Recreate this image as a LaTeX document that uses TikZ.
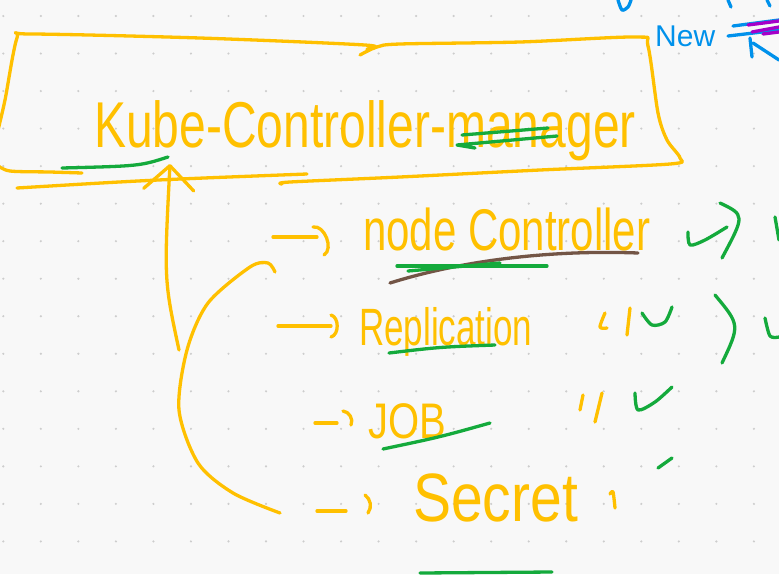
\documentclass[tikz,border=0pt]{standalone}
\usepackage{fontspec}
\setmainfont{Liberation Sans}
\usetikzlibrary{arrows.meta}
\definecolor{kyellow}{RGB}{255,192,0}
\definecolor{kgreen}{RGB}{20,170,60}
\definecolor{kbrown}{RGB}{115,85,70}
\definecolor{kblue}{RGB}{0,145,235}
\definecolor{kpurple}{RGB}{165,0,200}
\definecolor{paper}{RGB}{248,248,248}
\definecolor{griddot}{RGB}{205,205,205}
\tikzset{
  pen/.style={line width=3.3pt,line cap=round,line join=round},
  ypen/.style={pen,draw=kyellow},
  gpen/.style={pen,draw=kgreen},
  bpen/.style={pen,draw=kblue},
  hand/.style={text=kyellow,inner sep=0pt,anchor=base west},
}
\newcommand{\tallt}[2]{\scalebox{1}[#1]{#2}}

\begin{document}
\begin{tikzpicture}[x=1pt,y=-1pt,>=Latex]
\fill[paper] (0,0) rectangle (779,574);
\useasboundingbox (0,0) rectangle (779,574);
\foreach \i in {0,...,20}
  \foreach \j in {0,...,15}
    \fill[griddot] (3.3+37.53*\i,16+37.53*\j) circle (1.2pt);

% title and its box
\node[hand,anchor=base,font=\fontsize{48}{50}\selectfont] (kcm) at (365,147) {\tallt{1.35}{Kube-Controller-manager}};
\draw[ypen] plot[smooth] coordinates {(-2,130) (5,100) (17,38) (30,34) (200,38) (365,45) (367,49)};
\draw[ypen] plot[smooth] coordinates {(360,55) (377,47) (400,44) (520,42) (637,37) (648,46) (658,113) (667,140) (680,158) (670,164) (540,170) (400,177) (290,182) (282,184)};
\draw[ypen] plot[smooth] coordinates {(-3,165) (10,171) (50,172) (82,173)};
\draw[ypen] (17,188) .. controls (150,180) .. (307,174);
\draw[gpen] (62,168) .. controls (140,166) .. (168,157);
\draw[gpen] (462,135) -- (548,128);
\draw[gpen] (557,136) -- (457,145) -- (475,148);

% controllers
\node[hand,font=\fontsize{42}{44}\selectfont] (ctrl) at (363,250) {\tallt{1.4}{node Controller}};
\node[hand,font=\fontsize{35}{37}\selectfont] (repl) at (359,345) {\tallt{1.5}{Replication}};
\node[hand,font=\fontsize{40}{42}\selectfont] (job) at (368,438) {\tallt{1.25}{JOB}};
\node[hand,font=\fontsize{57}{59}\selectfont] (secret) at (413,521) {\tallt{1.2}{Secret}};

\coordinate (a1) at (273,237);
\coordinate (a2) at (278,326);
\coordinate (a3) at (315,423);
\coordinate (a4) at (317,511);
\draw[ypen,shorten >=46pt] (a1) -- (a1 -| ctrl.west);
\draw[ypen] (a1 -| ctrl.west) ++(-50,-10) to[bend left=80] ++(11,28);
\draw[ypen,shorten >=28pt] (a2) -- (a2 -| repl.west);
\draw[ypen] (a2 -| repl.west) ++(-28,-11) to[bend left=75] ++(0,22);
\draw[ypen,shorten >=31pt] (a3) -- (a3 -| job.west);
\draw[ypen] (a3 -| job.west) ++(-25,-12) to[bend left=55] ++(8,14);
\draw[ypen,shorten >=67pt] (a4) -- (a4 -| secret.west);
\draw[ypen] (a4 -| secret.west) ++(-48,-16) to[bend left=45] ++(3,18);

\draw[kbrown,pen] (390,283) .. controls (470,258) and (560,250) .. (638,253);
\draw[gpen] (397,266) -- (547,266);
\draw[gpen] (408,271) -- (500,263);
\draw[gpen] (389,353) .. controls (440,347) .. (495,345);
\draw[gpen] (383,449) .. controls (440,437) .. (490,423);

% bracket back up to the box
\draw[ypen] plot[smooth] coordinates {(275,272) (268,263) (250,267) (208,303) (187,350) (179,410) (198,463) (233,493) (280,513)};
\coordinate (brk) at (179,350);
\coordinate (kbot) at (170,164);
\draw[ypen,-{Straight Barb[length=24pt,width=50pt,round]}] (brk) .. controls (164,280) .. (kbot);

% ditto marks and ticks
\draw[ypen] plot[smooth] coordinates {(605,313) (600,327) (607,328)};
\draw[ypen] (630,308) -- (627,335);
\draw[ypen] (583,395) -- (580,410);
\draw[ypen] (602,393) -- (595,422);
\draw[ypen] plot[smooth] coordinates {(610,494) (613,492) (615,508)};
\draw[gpen] plot[smooth] coordinates {(688,232) (690,245) (705,240) (727,227)};
\draw[gpen] (720,203) .. controls (745,215) .. (722,258);
\draw[gpen] plot[smooth] coordinates {(642,313) (652,325) (665,322) (672,307)};
\draw[gpen] (715,295) .. controls (740,325) .. (722,363);
\draw[gpen] plot[smooth] coordinates {(635,393) (638,410) (655,402) (672,387)};
\draw[gpen] (658,468) -- (672,458);
\draw[gpen] (775,217) -- (779,240);
\draw[gpen] plot[smooth] coordinates {(765,318) (770,336) (779,337)};
\draw[gpen] (420,573) -- (552,572);

% top right corner
\node[text=kblue,inner sep=0pt,anchor=base west,font=\fontsize{30}{32}\selectfont] (new) at (655,46) {New};
\draw[bpen] plot[smooth] coordinates {(618,0) (622,10) (628,7) (631,0)};
\draw[bpen] (728,0) -- (731,7);
\draw[bpen] (767,0) -- (770,6);
\draw[bpen] (733,26) -- (779,20);
\draw[bpen] (728,36) -- (779,30);
\draw[kpurple,pen] (748,25) -- (779,21);
\draw[kpurple,pen] (752,32) -- (779,27);
\draw[kpurple,pen] (763,34) -- (779,32);
\draw[bpen] (750,38) -- (752,57);
\draw[bpen] (753,43) -- (779,60);
\end{tikzpicture}
\end{document}
